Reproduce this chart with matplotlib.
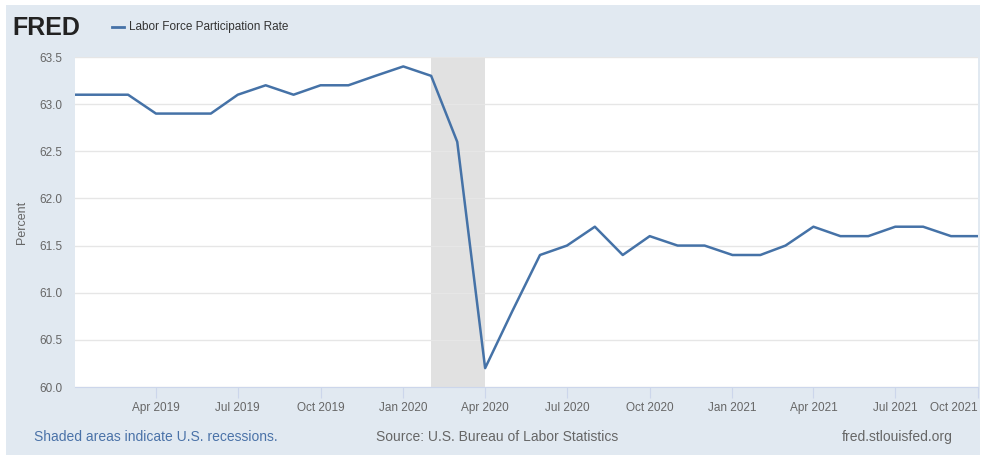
import numpy as np
import pandas as pd
import matplotlib
matplotlib.use("Agg")
import matplotlib.pyplot as plt
from matplotlib.patches import Rectangle

plt.rcParams['font.family'] = ['Liberation Sans', 'DejaVu Sans']

# monthly labor force participation rate, Jan 2019 - Oct 2021
months = pd.date_range("2019-01-01", "2021-10-01", freq="MS")
rate = [63.1, 63.1, 63.1, 62.9, 62.9, 62.9, 63.1, 63.2, 63.1, 63.2, 63.2, 63.3,
        63.4, 63.3, 62.6, 60.2, 60.8, 61.4, 61.5, 61.7, 61.4, 61.6, 61.5, 61.5,
        61.4, 61.4, 61.5, 61.7, 61.6, 61.6, 61.7, 61.7, 61.6, 61.6]
recession_start = pd.Timestamp("2020-02-01")
recession_end = pd.Timestamp("2020-04-01")
y_ticks = [60.0, 60.5, 61.0, 61.5, 62.0, 62.5, 63.0, 63.5]
x_ticks = pd.to_datetime(["2019-04-01", "2019-07-01", "2019-10-01", "2020-01-01",
                          "2020-04-01", "2020-07-01", "2020-10-01", "2021-01-01",
                          "2021-04-01", "2021-07-01", "2021-10-01"])

bg = "#e1e9f1"
line_col = "#4572a7"
txt = "#666666"

fig = plt.figure(figsize=(9.84, 4.57), dpi=100, facecolor="white")
fig.patches.append(Rectangle((6 / 984, 2 / 457), 974 / 984, 450 / 457,
                             transform=fig.transFigure, facecolor=bg,
                             edgecolor="none", zorder=-10))

ax = fig.add_axes([75 / 984, 70 / 457, 903 / 984, 330 / 457])
ax.set_facecolor("white")
ax.axvspan(recession_start, recession_end, color="#e1e1e1", lw=0, zorder=1)
ax.plot(months, rate, color=line_col, lw=1.8, zorder=3)

ax.set_xlim(months[0], months[-1])
ax.set_ylim(60.0, 63.5)
ax.set_yticks(y_ticks)
ax.set_yticklabels([f"{v:.1f}" for v in y_ticks])
ax.set_xticks(x_ticks)
ax.set_xticklabels([d.strftime("%b %Y") for d in x_ticks])
ax.grid(axis="y", color="#e6e6e6", lw=1, zorder=0)
for s in ["top", "right", "left"]:
    ax.spines[s].set_visible(False)
ax.spines["bottom"].set_color("#ccd6eb")
ax.tick_params(axis="y", length=0, labelsize=8.5, labelcolor=txt, pad=9)
ax.tick_params(axis="x", length=8, color="#ccd6eb", labelsize=8.5,
               labelcolor=txt, pad=3)
ax.set_ylabel("Percent", fontsize=9, color=txt, labelpad=8)
ax.get_xticklabels()[-1].set_horizontalalignment("right")

# header
fig.text(12 / 984, 1 - 28 / 457, "FRED", fontsize=18, fontweight="bold",
         color="#222222", va="center", ha="left")
fig.add_artist(plt.Line2D([112 / 984, 124 / 984], [1 - 27 / 457, 1 - 27 / 457],
                          color=line_col, lw=2))
fig.text(129 / 984, 1 - 27 / 457, "Labor Force Participation Rate",
         fontsize=8.5, color="#333333", va="center", ha="left")

# footer
fig.text(34 / 984, 1 - 437 / 457, "Shaded areas indicate U.S. recessions.",
         fontsize=10, color="#4a72a8", va="center", ha="left")
fig.text(497 / 984, 1 - 437 / 457, "Source: U.S. Bureau of Labor Statistics",
         fontsize=10, color="#666666", va="center", ha="center")
fig.text(953 / 984, 1 - 437 / 457, "fred.stlouisfed.org",
         fontsize=10, color="#666666", va="center", ha="right")

fig.savefig("out.png", dpi=100, facecolor="white")
